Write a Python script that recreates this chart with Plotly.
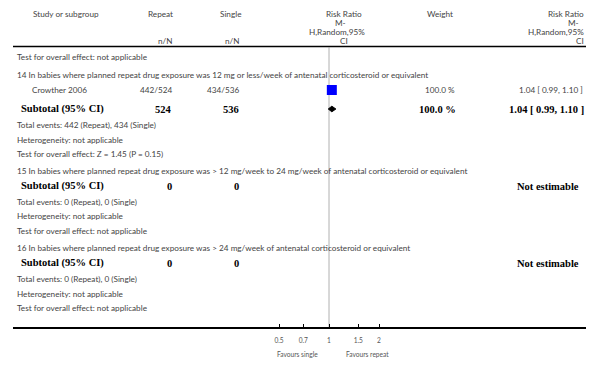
import math
import plotly.graph_objects as go

# ---------------- data ----------------
header_study = "Study or subgroup"
header_groups = ["Repeat", "Single"]
header_nN = "n/N"
header_rr_lines = ["Risk Ratio", "M-", "H,Random,95%", "CI"]
header_weight = "Weight"

first_row = "Test for overall effect: not applicable"

subgroups = [
    "14 In babies where planned repeat drug exposure was 12 mg or less/week of antenatal corticosteroid or equivalent",
    "15 In babies where planned repeat drug exposure was > 12 mg/week to 24 mg/week of antenatal corticosteroid or equivalent",
    "16 In babies where planned repeat drug exposure was > 24 mg/week of antenatal corticosteroid or equivalent",
]
studies = [["Crowther 2006"], [], []]
study_repeat = [["442/524"], [], []]
study_single = [["434/536"], [], []]
study_rr = [[1.04], [], []]
study_lo = [[0.99], [], []]
study_hi = [[1.10], [], []]
study_weight = [[100.0], [], []]

sub_repeat_n = [524, 0, 0]
sub_single_n = [536, 0, 0]
sub_events_repeat = [442, 0, 0]
sub_events_single = [434, 0, 0]
sub_rr = [1.04, None, None]
sub_lo = [0.99, None, None]
sub_hi = [1.10, None, None]
sub_weight = [100.0, None, None]
sub_test = ["Z = 1.45 (P = 0.15)", "not applicable", "not applicable"]
sub_het = ["not applicable", "not applicable", "not applicable"]

tick_vals = [0.5, 0.7, 1, 1.5, 2]
tick_labels = ["0.5", "0.7", "1", "1.5", "2"]
favours_left = "Favours single"
favours_right = "Favours repeat"

# ---------------- layout geometry (pixels) ----------------
W, H = 601, 367
L, R = 13, 586          # plot area horizontal extent
AXIS_Y = 327            # axis line position
HEADER_LINE_Y = 46.5
row_y = {
    "first": 57,
    "blocks": [
        {"head": 75, "studies": [90], "sub": 109, "tot": 125, "het": 140, "test": 154},
        {"head": 171, "studies": [], "sub": 186, "tot": 202, "het": 216, "test": 231},
        {"head": 248, "studies": [], "sub": 263, "tot": 279, "het": 294, "test": 308},
    ],
}

# log axis range such that RR=1 sits at x=329 and RR=2 at x=379
px_per_ln = 50 / math.log(2)
x_one = 329
xrange = [((L - x_one) / px_per_ln) / math.log(10), ((R - x_one) / px_per_ln) / math.log(10)]

SANS = "Lato, 'Open Sans', sans-serif"
SMALL = dict(family=SANS, size=8.2, color="#444")
BOLD = dict(family="'Liberation Serif', 'DejaVu Serif', serif", size=10.5, color="#000")

ann = []


def px(x):
    return (x - L) / (R - L)


def text(s, x, y, anchor="left", font=SMALL, paper_y=False):
    d = dict(text=s, x=px(x), xref="paper", xanchor=anchor, yanchor="middle",
             showarrow=False, font=font)
    if paper_y:
        d.update(y=(AXIS_Y - y) / AXIS_Y, yref="paper")
    else:
        d.update(y=y, yref="y")
    ann.append(d)


def bold(s):
    return "<b>" + s + "</b>"


# header
text(header_study, 31, 14)
text(header_groups[0], 160, 14, "center")
text(header_groups[1], 230, 14, "center")
text(header_nN, 175, 41, "right")
text(header_nN, 242, 41, "right")
for s, yy, cx in zip(header_rr_lines, [14, 23, 32, 41], [344, 340, 337, 344]):
    text(s, cx, yy, "center")
text(header_weight, 440, 14, "center")
for s, yy, rx in zip(header_rr_lines, [14, 23, 32, 41], [586, 581, 586, 586]):
    text(s, rx, yy, "right")

text(first_row, 15, row_y["first"])

fig = go.Figure()

for i, blk in enumerate(row_y["blocks"]):
    text(subgroups[i], 15, blk["head"])
    for j, name in enumerate(studies[i]):
        yy = blk["studies"][j]
        text(name, 30, yy)
        text(study_repeat[i][j], 174, yy, "right")
        text(study_single[i][j], 241, yy, "right")
        text(f"{study_weight[i][j]:.1f} %", 457, yy, "right")
        text(f"{study_rr[i][j]:.2f} [ {study_lo[i][j]:.2f}, {study_hi[i][j]:.2f} ]", 585, yy, "right")
        fig.add_trace(go.Scatter(x=[study_lo[i][j], study_hi[i][j]], y=[yy, yy], mode="lines",
                                 line=dict(color="#000", width=1), hoverinfo="skip"))
        fig.add_trace(go.Scatter(x=[study_rr[i][j]], y=[yy], mode="markers",
                                 marker=dict(symbol="square", size=10, color="#0000ff",
                                             line=dict(width=0)), hoverinfo="skip"))
    ys = blk["sub"]
    text(bold("Subtotal (95% CI)"), 19, ys, font=BOLD)
    text(bold(str(sub_repeat_n[i])), 174, ys, "right", font=BOLD)
    text(bold(str(sub_single_n[i])), 241, ys, "right", font=BOLD)
    if sub_rr[i] is not None:
        text(bold(f"{sub_weight[i]:.1f} %"), 458, ys, "right", font=BOLD)
        text(bold(f"{sub_rr[i]:.2f} [ {sub_lo[i]:.2f}, {sub_hi[i]:.2f} ]"), 586, ys, "right", font=BOLD)
        h = 2.8
        fig.add_trace(go.Scatter(
            x=[sub_lo[i], sub_rr[i], sub_hi[i], sub_rr[i], sub_lo[i]],
            y=[ys, ys - h, ys, ys + h, ys], mode="lines", fill="toself",
            fillcolor="#000", line=dict(color="#000", width=1), hoverinfo="skip"))
    else:
        text(bold("Not estimable"), 581, ys, "right", font=BOLD)
    text(f"Total events: {sub_events_repeat[i]} (Repeat), {sub_events_single[i]} (Single)", 15, blk["tot"])
    text(f"Heterogeneity: {sub_het[i]}", 15, blk["het"])
    text(f"Test for overall effect: {sub_test[i]}", 15, blk["test"])

# favours labels below axis
FAV = dict(family=SANS, size=6.6, color="#555")
text(favours_left, 297, 354, "center", font=FAV, paper_y=True)
text(favours_right, 367, 354, "center", font=FAV, paper_y=True)

shapes = [
    dict(type="line", xref="paper", yref="y", x0=0, x1=1, y0=HEADER_LINE_Y, y1=HEADER_LINE_Y,
         line=dict(color="#000", width=1.5)),
    dict(type="line", xref="x", yref="y", x0=1, x1=1, y0=HEADER_LINE_Y + 1, y1=AXIS_Y,
         line=dict(color="#b0b0b0", width=1), layer="below"),
]

fig.update_layout(
    width=W, height=H,
    margin=dict(l=L, r=W - R, t=0, b=H - AXIS_Y),
    paper_bgcolor="#fff", plot_bgcolor="#fff",
    showlegend=False,
    annotations=ann, shapes=shapes,
    xaxis=dict(type="log", range=xrange, showgrid=False, zeroline=False,
               showline=True, linecolor="#000", linewidth=1.5,
               ticks="inside", ticklen=3, tickcolor="#000", tickwidth=1,
               tickvals=tick_vals, ticktext=tick_labels,
               tickfont=dict(family=SANS, size=6.6, color="#555"),
               ticklabelstandoff=6, fixedrange=True, automargin=False),
    yaxis=dict(range=[AXIS_Y, 0], visible=False, showgrid=False, zeroline=False,
               fixedrange=True, automargin=False),
)

fig.write_html(
    "out.html",
    config={"displayModeBar": False},
    post_script="document.body.style.margin='0px';document.body.style.padding='0px';"
                "document.documentElement.style.overflow='hidden';",
)
